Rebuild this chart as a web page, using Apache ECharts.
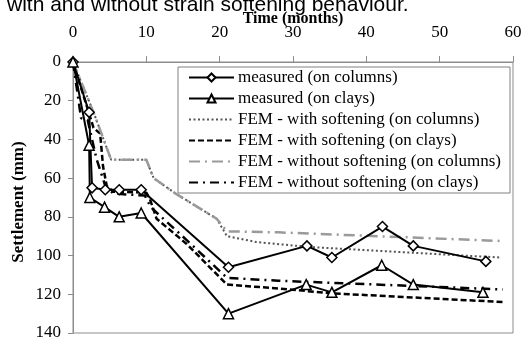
<!DOCTYPE html>
<html>
<head>
<meta charset="utf-8">
<style>
  html, body { margin: 0; padding: 0; background: #fff; }
  #chart { width: 524px; height: 343px; }
</style>
<script src="https://cdn.jsdelivr.net/npm/echarts@6/dist/echarts.min.js"></script>
</head>
<body>
<div id="chart"></div>
<script>
// Settlement (mm) against time (months): [time, settlement]
const measuredColumns = [[0,0],[2.2,26],[2.6,65],[4.4,66],[6.3,66],[9.3,66],[21.2,106],[31.9,95],[35.3,101],[42.2,85],[46.4,95],[56.3,103]];
const measuredClays   = [[0,0],[2.2,43],[2.3,70],[4.3,75],[6.3,80],[9.3,78],[21.2,130],[31.8,115],[35.3,119],[42.1,105],[46.4,115],[55.9,119]];
const femSoftColumns  = [[0,0],[2,18.5],[3,28],[5.2,50.5],[10,50.5],[11,60],[14,68],[19.6,81],[21,90],[25,93],[32,95.5],[39,97],[58.2,101]];
const femSoftClays    = [[0,0],[2.8,34],[3.7,37],[4.1,54],[4.6,64],[5.5,67],[10,67.5],[10.5,71],[11.4,81],[15.5,94],[21,115],[28,117],[35.3,119.5],[58.6,124]];
const femNoSoftColumns= [[0,0],[2,18.5],[3,28],[5.2,50.5],[10,50.5],[11,60],[14,68],[19.6,81],[21,87.5],[28,88],[58.6,92.5]];
const femNoSoftClays  = [[0,0],[1.1,29],[2,30],[3.2,50],[4.4,64],[5.5,68],[9.8,69],[10.6,75],[15.5,92],[21,111.5],[28,113],[58.6,117.5]];

const seriesNames = [
  'measured (on columns)',
  'measured (on clays)',
  'FEM - with softening (on columns)',
  'FEM - with softening (on clays)',
  'FEM - without softening (on columns)',
  'FEM - without softening (on clays)'
];
const xTitle = 'Time (months)';
const yTitle = 'Settlement (mm)';

const serif = '"Liberation Serif", "Times New Roman", serif';
const chart = echarts.init(document.getElementById('chart'));

function lineSeries(name, data, color, width, type, symbol, symbolSize) {
  return {
    name: name,
    type: 'line',
    data: data,
    symbol: symbol || 'none',
    symbolSize: symbolSize || 0,
    showSymbol: !!symbol,
    animation: false,
    lineStyle: { color: color, width: width, type: type },
    itemStyle: { color: '#fff', borderColor: color, borderWidth: 1.5 },
    z: symbol ? 5 : 3
  };
}

// Legend entries: the model curves show their line only, no marker
const legendData = seriesNames.map(function (n, i) {
  return i < 2 ? { name: n } : { name: n, itemStyle: { opacity: 0 } };
});

chart.setOption({
  backgroundColor: '#fff',
  animation: false,
  graphic: [{
    type: 'text',
    left: 7,
    top: -5,
    style: {
      text: 'with and without strain softening behaviour.',
      font: '21px "Liberation Sans", Arial, sans-serif',
      fill: '#000'
    }
  }, {
    // axis titles
    type: 'text',
    x: 293, y: 19,
    style: {
      text: xTitle, align: 'center', verticalAlign: 'middle',
      font: 'bold 16px ' + serif, fill: '#000'
    }
  }, {
    type: 'text',
    x: 19, y: 202,
    rotation: Math.PI / 2,
    style: {
      text: yTitle, align: 'center', verticalAlign: 'middle',
      font: 'bold 17px ' + serif, fill: '#000'
    }
  }],
  grid: {
    left: 73, right: 11, top: 62, bottom: 10,
    outerBoundsMode: 'none',
    show: true, borderColor: '#8c8c8c', borderWidth: 1
  },
  legend: {
    orient: 'vertical',
    left: 178,
    top: 67,
    padding: [2, 9, 2, 10],
    itemWidth: 45,
    itemHeight: 10,
    itemGap: 4,
    backgroundColor: '#fff',
    borderColor: '#808080',
    borderWidth: 1,
    data: legendData,
    textStyle: { fontFamily: serif, fontSize: 17, lineHeight: 17, color: '#000', padding: [0, 0, 0, -1] }
  },
  xAxis: {
    type: 'value',
    position: 'top',
    min: 0, max: 60, interval: 10,
    axisLine: { show: true, lineStyle: { color: '#8c8c8c' } },
    axisTick: { show: true, length: 6, lineStyle: { color: '#8c8c8c' } },
    axisLabel: { fontFamily: serif, fontSize: 17, color: '#000', margin: 21 },
    splitLine: { show: false }
  },
  yAxis: {
    type: 'value',
    inverse: true,
    min: 0, max: 140, interval: 20,
    axisLine: { show: true, lineStyle: { color: '#8c8c8c' } },
    axisTick: { show: true, length: 5, lineStyle: { color: '#8c8c8c' } },
    axisLabel: { fontFamily: serif, fontSize: 17, color: '#000', margin: 12 },
    splitLine: { show: false }
  },
  series: [
    lineSeries(seriesNames[0], measuredColumns, '#000', 2, 'solid', 'diamond', 10),
    lineSeries(seriesNames[1], measuredClays, '#000', 2, 'solid', 'triangle', 10),
    lineSeries(seriesNames[2], femSoftColumns, '#555', 2, [2, 2.5]),
    lineSeries(seriesNames[3], femSoftClays, '#000', 2.5, [6, 3]),
    lineSeries(seriesNames[4], femNoSoftColumns, '#9a9a9a', 2.5, [11, 5, 2, 5]),
    lineSeries(seriesNames[5], femNoSoftClays, '#000', 2.5, [9, 5, 2, 5])
  ]
});
</script>
</body>
</html>
